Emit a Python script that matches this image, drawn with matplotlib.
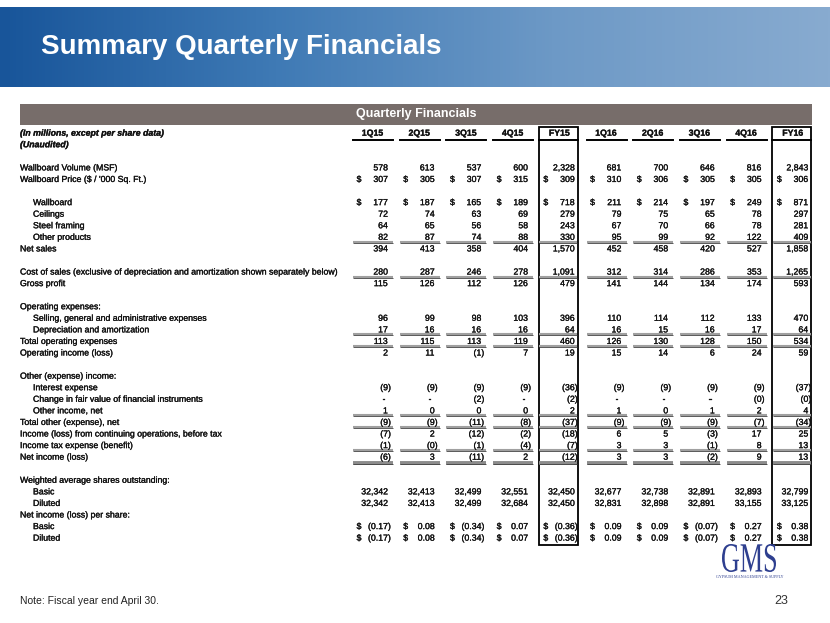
import numpy as np
import matplotlib
matplotlib.use("Agg")
import matplotlib.pyplot as plt
import matplotlib.patheffects as pe
from matplotlib.colors import LinearSegmentedColormap
from matplotlib.patches import Rectangle, PathPatch
from matplotlib.textpath import TextPath
from matplotlib.font_manager import FontProperties
from matplotlib.transforms import Affine2D

plt.rcParams["font.family"] = ["Liberation Sans Narrow", "Liberation Sans", "DejaVu Sans"]

columns = ["1Q15", "2Q15", "3Q15", "4Q15", "FY15", "1Q16", "2Q16", "3Q16", "4Q16", "FY16"]

volume = [578, 613, 537, 600, 2328, 681, 700, 646, 816, 2843]
price = [307, 305, 307, 315, 309, 310, 306, 305, 305, 306]
wallboard = [177, 187, 165, 189, 718, 211, 214, 197, 249, 871]
ceilings = [72, 74, 63, 69, 279, 79, 75, 65, 78, 297]
steel_framing = [64, 65, 56, 58, 243, 67, 70, 66, 78, 281]
other_products = [82, 87, 74, 88, 330, 95, 99, 92, 122, 409]
net_sales = [394, 413, 358, 404, 1570, 452, 458, 420, 527, 1858]
cost_of_sales = [280, 287, 246, 278, 1091, 312, 314, 286, 353, 1265]
gross_profit = [115, 126, 112, 126, 479, 141, 144, 134, 174, 593]
sga = [96, 99, 98, 103, 396, 110, 114, 112, 133, 470]
dep_amort = [17, 16, 16, 16, 64, 16, 15, 16, 17, 64]
total_opex = [113, 115, 113, 119, 460, 126, 130, 128, 150, 534]
op_income = [2, 11, -1, 7, 19, 15, 14, 6, 24, 59]
interest = [-9, -9, -9, -9, -36, -9, -9, -9, -9, -37]
fair_value = ["-", "-", "(2)", "-", "(2)", "-", "-", "-", "(0)", "(0)"]
other_income = [1, 0, 0, 0, 2, 1, 0, 1, 2, 4]
total_other = [-9, -9, -11, -8, -37, -9, -9, -9, -7, -34]
pretax = [-7, 2, -12, -2, -18, 6, 5, -3, 17, 25]
tax = ["(1)", "(0)", "(1)", "(4)", "(7)", "3", "3", "(1)", "8", "13"]
net_income = [-6, 3, -11, 2, -12, 3, 3, -2, 9, 13]
shares_basic = [32342, 32413, 32499, 32551, 32450, 32677, 32738, 32891, 32893, 32799]
shares_diluted = [32342, 32413, 32499, 32684, 32450, 32831, 32898, 32891, 33155, 33125]
eps_basic = [-0.17, 0.08, -0.34, 0.07, -0.36, 0.09, 0.09, -0.07, 0.27, 0.38]
eps_diluted = [-0.17, 0.08, -0.34, 0.07, -0.36, 0.09, 0.09, -0.07, 0.27, 0.38]

# (label, indent, values, dollar sign, rule below)
rows = [
    ("Wallboard Volume (MSF)", 0, volume, False, None),
    ("Wallboard Price ($ / '000 Sq. Ft.)", 0, price, True, None),
    (None, 0, None, False, None),
    ("Wallboard", 1, wallboard, True, None),
    ("Ceilings", 1, ceilings, False, None),
    ("Steel framing", 1, steel_framing, False, None),
    ("Other products", 1, other_products, False, "single"),
    ("Net sales", 0, net_sales, False, None),
    (None, 0, None, False, None),
    ("Cost of sales (exclusive of depreciation and amortization shown separately below)", 0,
     cost_of_sales, False, "single"),
    ("Gross profit", 0, gross_profit, False, None),
    (None, 0, None, False, None),
    ("Operating expenses:", 0, None, False, None),
    ("Selling, general and administrative expenses", 1, sga, False, None),
    ("Depreciation and amortization", 1, dep_amort, False, "single"),
    ("Total operating expenses", 0, total_opex, False, "single"),
    ("Operating income (loss)", 0, op_income, False, None),
    (None, 0, None, False, None),
    ("Other (expense) income:", 0, None, False, None),
    ("Interest expense", 1, interest, False, None),
    ("Change in fair value of financial instruments", 1, fair_value, False, None),
    ("Other income, net", 1, other_income, False, "single"),
    ("Total other (expense), net", 0, total_other, False, "single"),
    ("Income (loss) from continuing operations, before tax", 0, pretax, False, None),
    ("Income tax expense (benefit)", 0, tax, False, "single"),
    ("Net income (loss)", 0, net_income, False, "double"),
    (None, 0, None, False, None),
    ("Weighted average shares outstanding:", 0, None, False, None),
    ("Basic", 1, shares_basic, False, None),
    ("Diluted", 1, shares_diluted, False, None),
    ("Net income (loss) per share:", 0, None, False, None),
    ("Basic", 1, eps_basic, True, None),
    ("Diluted", 1, eps_diluted, True, None),
]

W, H = 830, 623
fig = plt.figure(figsize=(W / 100, H / 100), dpi=100)
ax = fig.add_axes([0, 0, 1, 1])
ax.set_xlim(0, W)
ax.set_ylim(H, 0)
ax.axis("off")

# title banner
cmap = LinearSegmentedColormap.from_list("banner", ["#18559a", "#3f7ab5", "#6d99c6", "#88abd0"])
grad = np.linspace(0, 1, 256).reshape(1, -1)
ax.imshow(grad, cmap=cmap, extent=[0, W, 87, 7], aspect="auto", zorder=0)
ax.text(41, 47, "Summary Quarterly Financials", color="white", fontsize=20,
        fontweight="bold", family=["Liberation Sans", "DejaVu Sans"], va="center", ha="left")

# grey section header
ax.add_patch(Rectangle((20, 104), 792, 21, facecolor="#776d6a", edgecolor="none"))
ax.text(416, 114.5, "Quarterly Financials", color="white", fontsize=9, fontweight="bold",
        family=["Liberation Sans", "DejaVu Sans"], ha="center", va="center")

fs = 6.3
heavy = [pe.withStroke(linewidth=0.2, foreground="#111111")]
x_label = 20
x_indent = 33
row0 = 132.5
dy = 11.57
base = 3.2  # baseline offset below the row centre
col_right = [388 + i * 46.7 for i in range(len(columns))]
fy_cols = [4, 9]


def cell(x, y, s, ha="right", **kw):
    ax.text(x, y + base, s, fontsize=fs, ha=ha, va="baseline", color="#111111",
            path_effects=heavy, **kw)


# header row
cell(x_label, row0, "(In millions, except per share data)", ha="left",
     fontweight="bold", style="italic")
cell(x_label, row0 + dy, "(Unaudited)", ha="left", fontweight="bold", style="italic")
for i, c in enumerate(columns):
    r = col_right[i]
    cell(r - 15.5, row0, c, ha="center", fontweight="bold")
    if i in fy_cols:
        ax.plot([r - 36, r + 3], [row0 + 7, row0 + 7], color="black", lw=1.4)
    else:
        ax.plot([r - 35, r + 5], [row0 + 7, row0 + 7], color="black", lw=1.4)


def fmt(v):
    if isinstance(v, str):
        return v
    if isinstance(v, float):
        return f"({abs(v):.2f})" if v < 0 else f"{v:.2f}"
    return f"({abs(v):,})" if v < 0 else f"{v:,}"


def rule(y, kind):
    for i in range(len(columns)):
        r = col_right[i]
        x0, x1 = (r - 35, r + 5) if i not in fy_cols else (r - 35.5, r + 2.5)
        if kind == "single":
            ax.plot([x0, x1], [y, y], color="#a0a0a0", lw=1.5, solid_capstyle="butt")
            ax.plot([x0, x1], [y + 1, y + 1], color="#404040", lw=0.6, solid_capstyle="butt")
        else:
            ax.plot([x0, x1], [y + 1, y + 1], color="#8c8c8c", lw=2.8, solid_capstyle="butt")
            ax.plot([x0, x1], [y + 2.4, y + 2.4], color="#404040", lw=0.6, solid_capstyle="butt")


for k, (label, indent, values, dollar, under) in enumerate(rows):
    y = row0 + (k + 3) * dy
    if label is None:
        continue
    cell(x_indent if indent else x_label, y, label, ha="left")
    if values is None:
        continue
    for i, v in enumerate(values):
        r = col_right[i]
        s = fmt(v)
        if s == "-":
            cell(r - 3, y, s)
        elif s.endswith(")"):
            cell(r + 3, y, s)
        else:
            cell(r, y, s)
        if dollar:
            cell(r - 29, y, "$", ha="center")
    if under:
        rule(y + dy / 2 - 0.5, under)

# boxes around fiscal-year columns
box_bottom = row0 + (len(rows) + 2) * dy + 8
for i in fy_cols:
    r = col_right[i]
    ax.add_patch(Rectangle((r - 36, 127), 39, box_bottom - 127, facecolor="none",
                           edgecolor="black", lw=1.3))

# footer
ax.text(20, 601, "Note: Fiscal year end April 30.", fontsize=7.5, va="center", color="#222222")
ax.text(788, 601, "23", fontsize=9, ha="right", va="center", color="#333333")

# logo
tp = TextPath((0, 0), "GMS", size=20, prop=FontProperties(family="Liberation Serif"))
bb = tp.get_extents()
sx = 54 / bb.width
sy = 28 / bb.height
tr = Affine2D().translate(-bb.x0, -bb.y0).scale(sx, -sy).translate(722, 572)
ax.add_patch(PathPatch(tr.transform_path(tp), facecolor="#2e3f8f", edgecolor="none"))
ax.text(750, 577, "GYPSUM MANAGEMENT & SUPPLY", fontsize=3, ha="center", va="center",
        color="#2e3f8f", family=["Liberation Serif", "DejaVu Serif"])

fig.savefig("out.png", dpi=100)
